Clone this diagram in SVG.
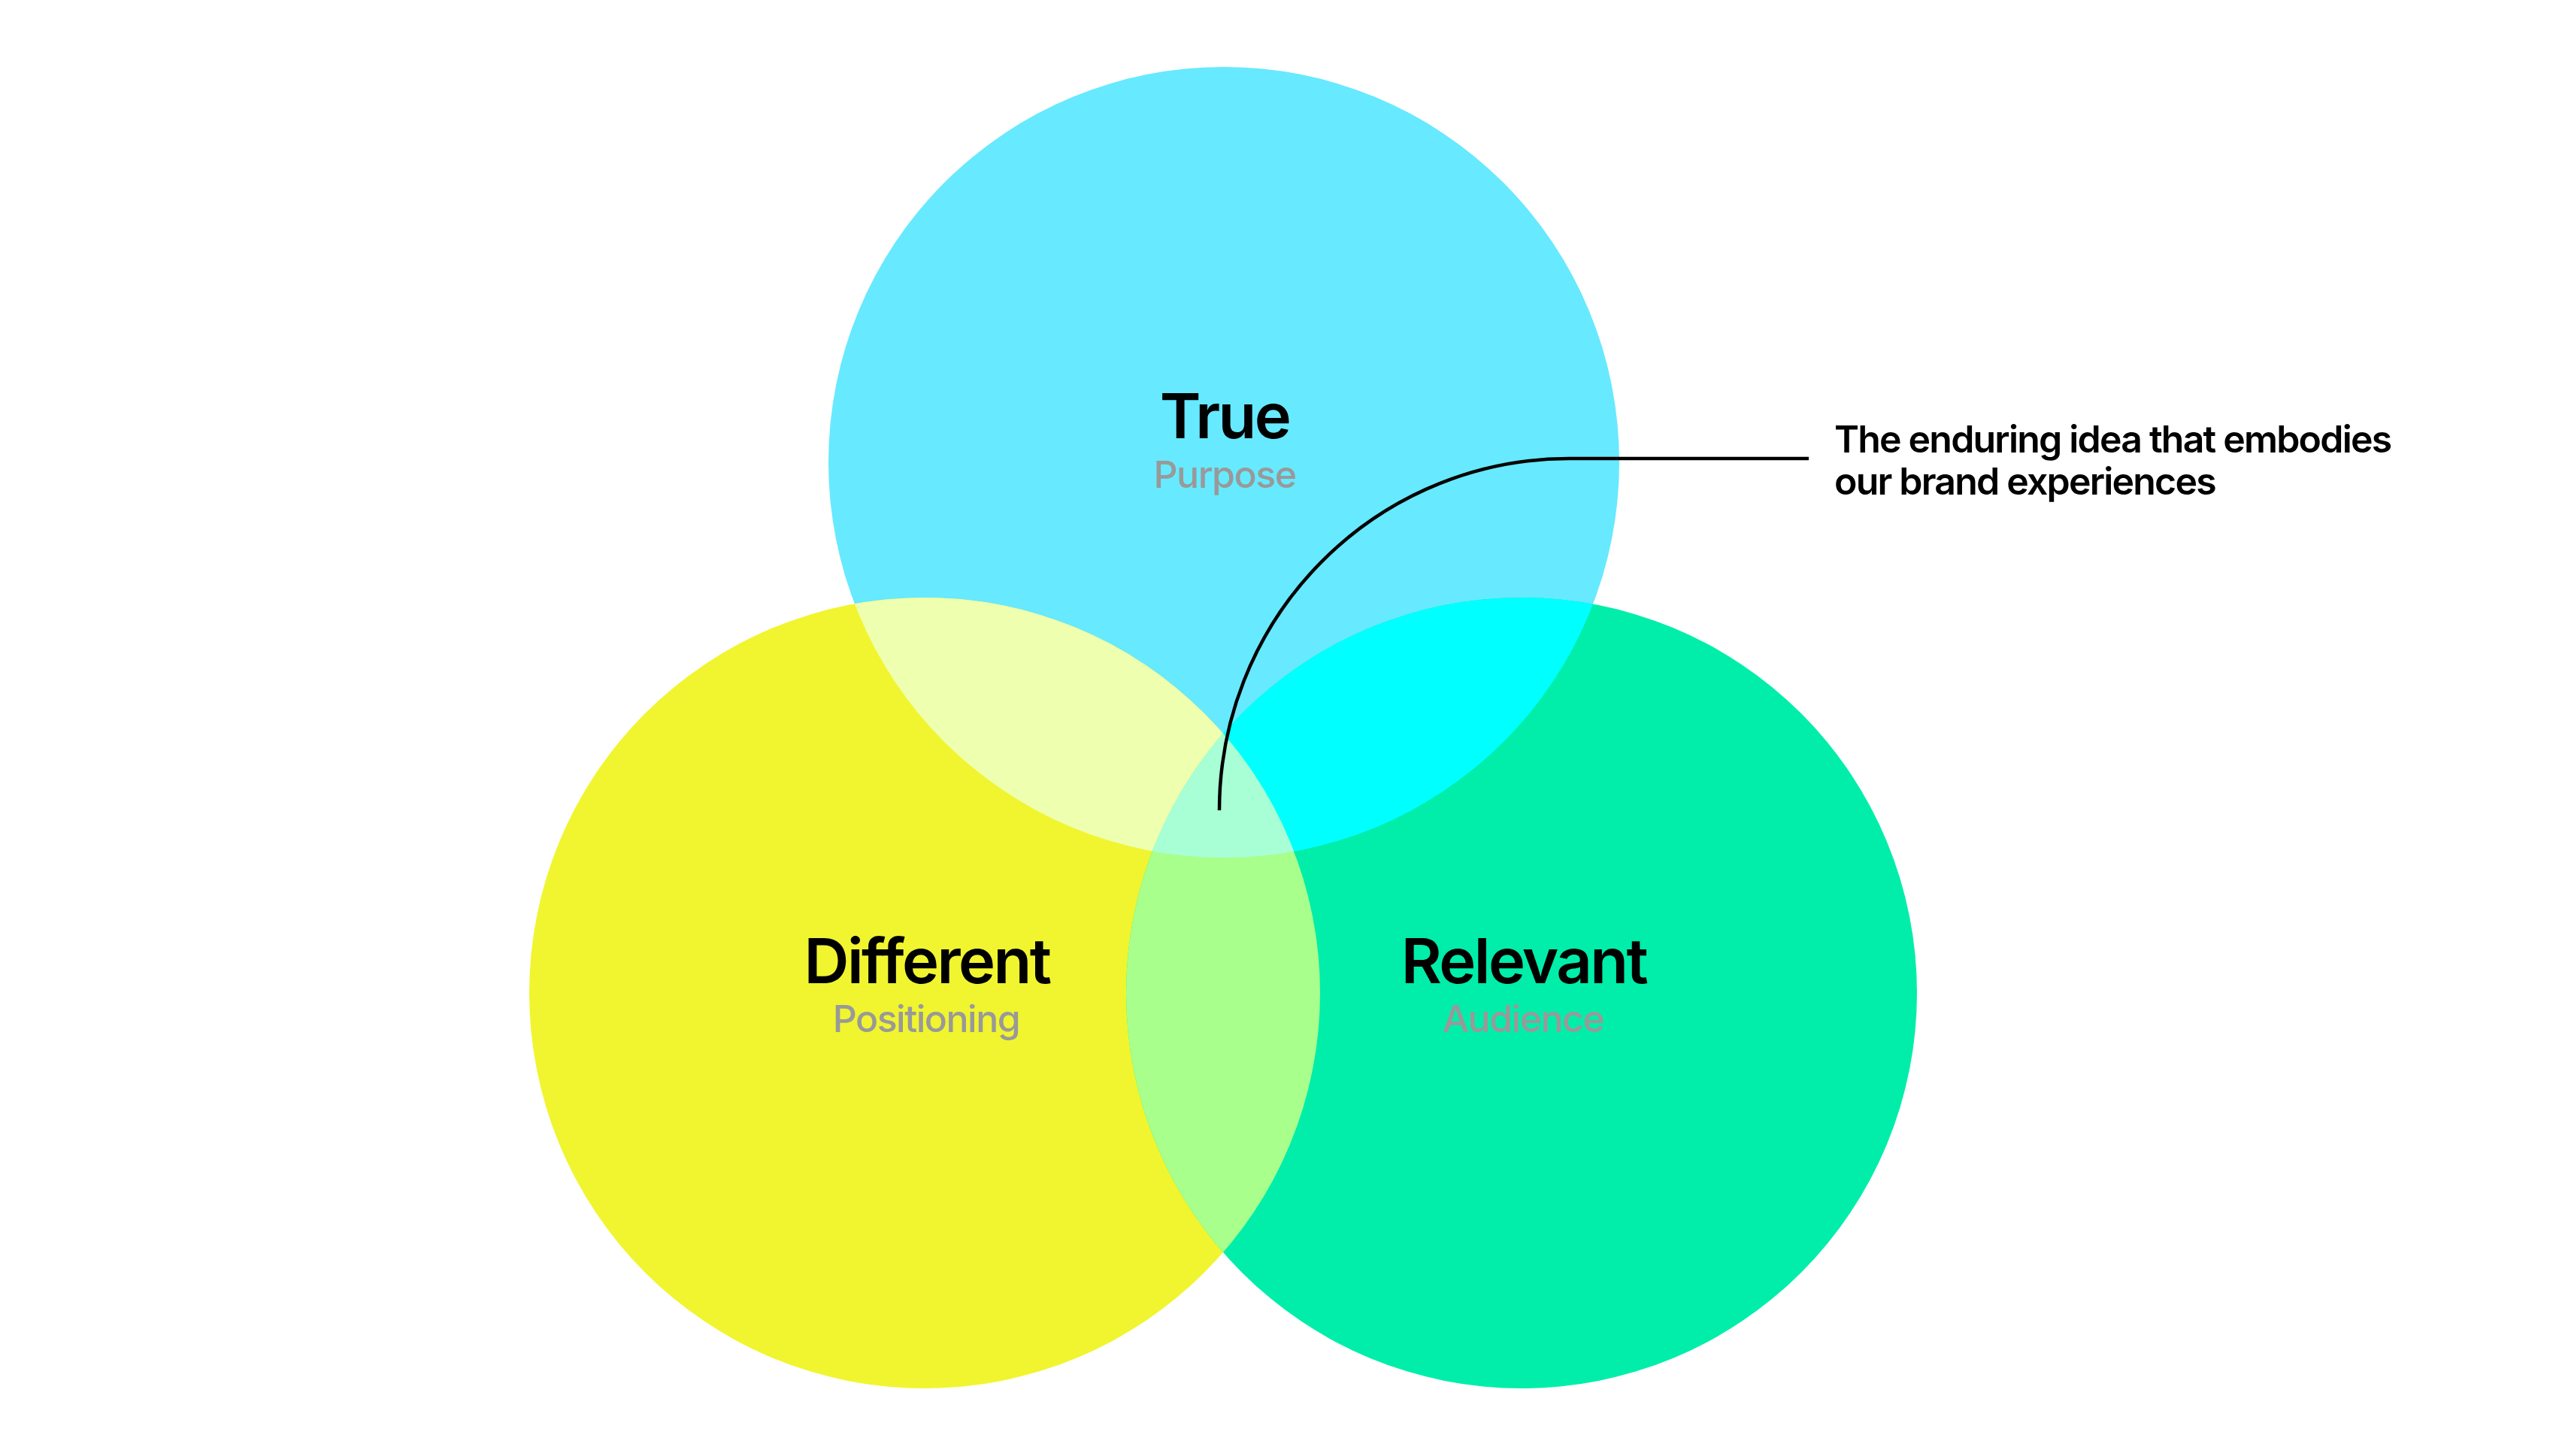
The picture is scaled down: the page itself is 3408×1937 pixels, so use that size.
<svg xmlns="http://www.w3.org/2000/svg" width="3408" height="1937" viewBox="0 0 3408 1937">
<style>
.title{font-family:Inter,"Noto Sans",sans-serif;font-weight:600;font-size:83px;fill:#000;text-anchor:middle;letter-spacing:-2.6px}
.sub{font-family:Inter,"Noto Sans",sans-serif;font-weight:500;font-size:50px;fill:#999999;text-anchor:middle;letter-spacing:-1.5px}
.note{font-family:Inter,"Noto Sans",sans-serif;font-weight:600;font-size:50px;fill:#000;letter-spacing:-1.8px}
.conn{fill:none;stroke:#000;stroke-width:4.5}
</style>
<defs>
<clipPath id="cT"><circle cx="1628" cy="615" r="526"/></clipPath>
<clipPath id="cL"><circle cx="1230" cy="1321" r="526"/></clipPath>
<clipPath id="cR"><circle cx="2024" cy="1321" r="526"/></clipPath>
</defs>
<rect width="3408" height="1937" fill="#fff"/>
<g id="circles">
<circle id="c-true" cx="1628" cy="615" r="526" fill="#67E9FF"/>
<circle id="c-different" cx="1230" cy="1321" r="526" fill="#F0F52F"/>
<circle id="c-relevant" cx="2024" cy="1321" r="526" fill="#00EEAA"/>
<circle cx="1230" cy="1321" r="526" fill="#EEFFB0" clip-path="url(#cT)"/>
<circle cx="2024" cy="1321" r="526" fill="#00FFFF" clip-path="url(#cT)"/>
<circle cx="2024" cy="1321" r="526" fill="#A8FF8C" clip-path="url(#cL)"/>
<g clip-path="url(#cT)"><circle cx="2024" cy="1321" r="526" fill="#A8FFD6" clip-path="url(#cL)"/></g>
</g>
<g id="node-true">
<text class="title" x="1629" y="583">True</text>
<text class="sub" x="1629" y="649">Purpose</text>
</g>
<g id="node-different">
<text class="title" x="1233" y="1308">Different</text>
<text class="sub" x="1232" y="1373">Positioning</text>
</g>
<g id="node-relevant">
<text class="title" x="2027" y="1308">Relevant</text>
<text class="sub" x="2026" y="1373">Audience</text>
</g>
<g id="connectors">
<path class="conn" d="M1622,1078 A465,468 0 0 1 2087,610 L2406,610"/>
</g>
<g id="node-note">
<text class="note" x="2440" y="602">The enduring idea that embodies</text>
<text class="note" x="2440" y="658">our brand experiences</text>
</g>
</svg>
